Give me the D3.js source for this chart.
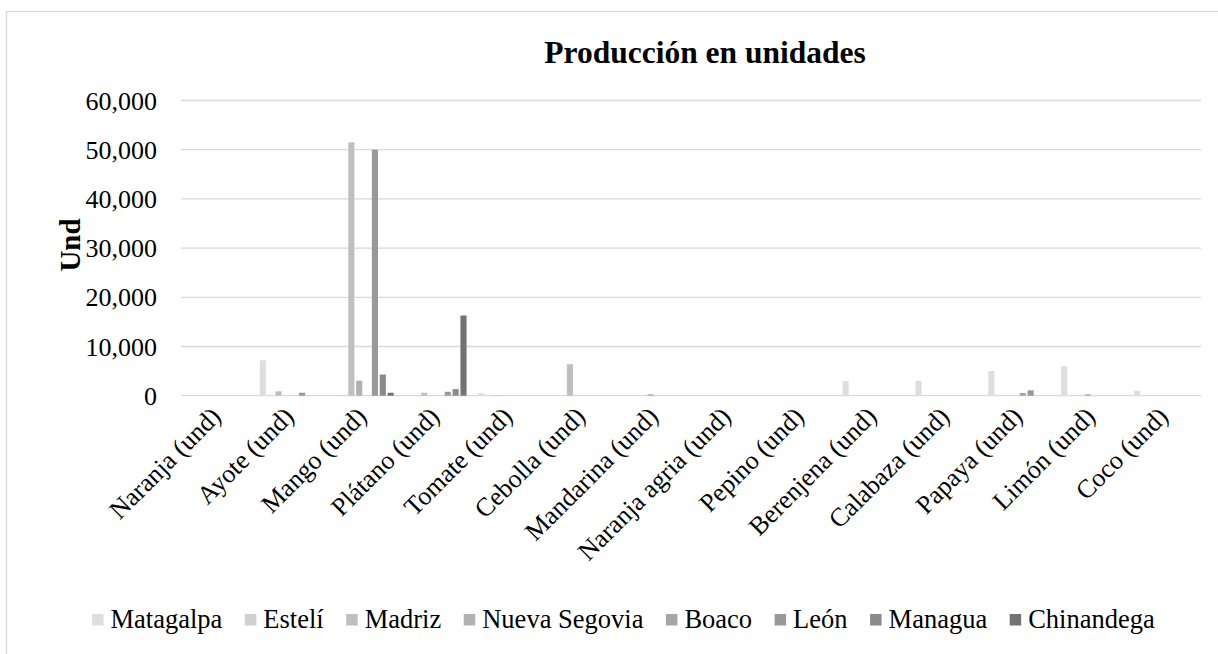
<!DOCTYPE html>
<html>
<head>
<meta charset="utf-8">
<script src="https://cdn.jsdelivr.net/npm/d3@7"></script>
<style>
  body { margin: 0; background: #fff; }
  svg { font-family: "Times New Roman", "Liberation Serif", serif; }
</style>
</head>
<body>
<div id="chart"></div>
<script>
// categories on the x axis
const categories = ["Naranja (und)", "Ayote (und)", "Mango (und)", "Plátano (und)", "Tomate (und)",
  "Cebolla (und)", "Mandarina (und)", "Naranja agria (und)", "Pepino (und)", "Berenjena (und)",
  "Calabaza (und)", "Papaya (und)", "Limón (und)", "Coco (und)"];

const seriesNames = ["Matagalpa", "Estelí", "Madriz", "Nueva Segovia", "Boaco", "León", "Managua", "Chinandega"];
const seriesColors = ["#dedede", "#d0d0d0", "#bfbfbf", "#b1b1b1", "#a5a5a5", "#999999", "#8a8a8a", "#737373"];

// values (one array per department)
const matagalpa    = [0, 7200, 0, 0, 500, 0, 0, 0, 0, 3000, 3000, 5000, 6000, 1000];
const esteli       = [0, 0, 150, 0, 0, 0, 0, 0, 0, 0, 0, 0, 0, 0];
const madriz       = [0, 900, 51500, 600, 100, 6400, 0, 0, 0, 0, 0, 0, 0, 0];
const nuevaSegovia = [0, 0, 3050, 0, 0, 0, 300, 0, 0, 0, 0, 0, 300, 0];
const boaco        = [0, 0, 0, 0, 0, 0, 0, 0, 0, 0, 0, 550, 0, 0];
const leon         = [0, 600, 50000, 800, 0, 0, 0, 0, 0, 0, 0, 1100, 0, 0];
const managua      = [0, 0, 4300, 1350, 0, 0, 0, 0, 0, 0, 0, 0, 0, 0];
const chinandega   = [0, 0, 600, 16300, 0, 0, 0, 0, 0, 0, 0, 0, 0, 0];

const yTicks = [0, 10000, 20000, 30000, 40000, 50000, 60000];

const seriesValues = [matagalpa, esteli, madriz, nuevaSegovia, boaco, leon, managua, chinandega];

const W = 1218, H = 654;
const plot = { left: 181, right: 1201, top: 100.5, bottom: 395.7 };

const svg = d3.select("#chart").append("svg")
  .attr("width", W)
  .attr("height", H);

svg.append("rect").attr("width", W).attr("height", H).attr("fill", "#fff");

// chart area border
svg.append("rect")
  .attr("x", 6.5).attr("y", 11.5)
  .attr("width", 1240).attr("height", 700)
  .attr("fill", "none")
  .attr("stroke", "#d9d9d9")
  .attr("stroke-width", 1.3);

// scales
const x0 = d3.scaleBand()
  .domain(categories)
  .range([plot.left, plot.right])
  .paddingInner(0.137)
  .paddingOuter(0.0685);

const x1 = d3.scaleBand()
  .domain(seriesNames)
  .range([0, x0.bandwidth()])
  .paddingInner(0.22)
  .paddingOuter(0.11);

const y = d3.scaleLinear()
  .domain([0, 60000])
  .range([plot.bottom, plot.top]);

// gridlines
svg.append("g")
  .selectAll("line")
  .data(yTicks)
  .join("line")
  .attr("x1", plot.left)
  .attr("x2", plot.right)
  .attr("y1", (d) => y(d))
  .attr("y2", (d) => y(d))
  .attr("stroke", "#d9d9d9")
  .attr("stroke-width", 1.3);

// y axis labels
const fmt = d3.format(",");
svg.append("g")
  .selectAll("text")
  .data(yTicks)
  .join("text")
  .attr("x", 157)
  .attr("y", (d) => y(d))
  .attr("dy", "0.35em")
  .attr("text-anchor", "end")
  .style("font-size", "26px")
  .attr("fill", "#000")
  .text((d) => fmt(d));

// bars
const rows = categories.map((c, i) => ({
  cat: c,
  vals: seriesNames.map((s, j) => ({ s: s, j: j, v: seriesValues[j][i] }))
}));

svg.append("g")
  .selectAll("g")
  .data(rows)
  .join("g")
  .attr("transform", (d) => `translate(${x0(d.cat)},0)`)
  .selectAll("rect")
  .data((d) => d.vals.filter((e) => e.v > 0))
  .join("rect")
  .attr("x", (d) => x1(d.s))
  .attr("y", (d) => y(d.v))
  .attr("width", x1.bandwidth())
  .attr("height", (d) => y(0) - y(d.v))
  .attr("fill", (d) => seriesColors[d.j]);

// x axis labels (rotated)
svg.append("g")
  .selectAll("text")
  .data(categories)
  .join("text")
  .attr("transform", (d) => `translate(${x0(d) + x0.bandwidth() / 2 + 5},418) rotate(-45)`)
  .attr("text-anchor", "end")
  .style("font-size", "26px")
  .attr("fill", "#000")
  .text((d) => d);

// title
svg.append("text")
  .attr("x", 705)
  .attr("y", 63)
  .attr("text-anchor", "middle")
  .style("font-size", "31.5px")
  .style("font-weight", "bold")
  .text("Producción en unidades");

// y axis title
svg.append("text")
  .attr("transform", "translate(80,245) rotate(-90)")
  .attr("text-anchor", "middle")
  .style("font-size", "29px")
  .style("font-weight", "bold")
  .text("Und");

// legend
const legend = svg.append("g");
let lx = 92;
seriesNames.forEach((name, i) => {
  legend.append("rect")
    .attr("x", lx).attr("y", 614)
    .attr("width", 11.5).attr("height", 11.5)
    .attr("fill", seriesColors[i]);
  const t = legend.append("text")
    .attr("x", lx + 18.5)
    .attr("y", 628)
    .style("font-size", "26.5px")
    .text(name);
  lx += 18.5 + t.node().getComputedTextLength() + 22.5;
});
</script>
</body>
</html>
